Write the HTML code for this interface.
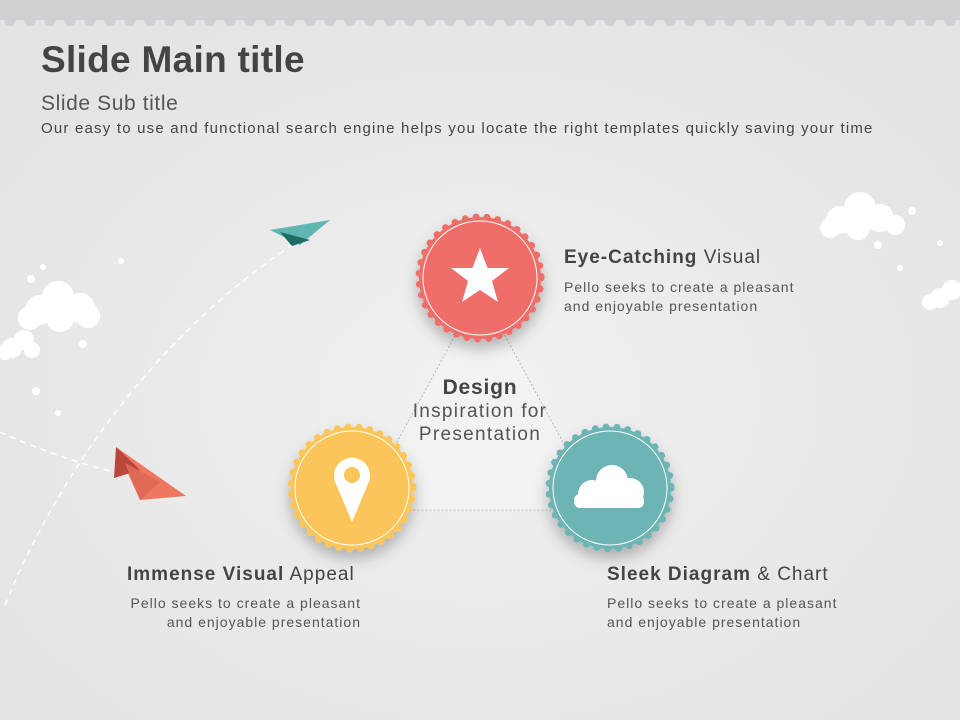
<!DOCTYPE html>
<html><head><meta charset="utf-8"><style>
body{margin:0;width:960px;height:720px;overflow:hidden;background:#ebebeb;font-family:"Liberation Sans",sans-serif;}
.t{position:absolute;color:#444;white-space:nowrap}
.s{letter-spacing:1px}
</style></head><body>
<svg width="960" height="720" style="position:absolute;left:0;top:0">
<defs>
<radialGradient id="bg" cx="50%" cy="55%" r="60%"><stop offset="0" stop-color="#f1f1f1"/><stop offset="1" stop-color="#e4e4e4"/></radialGradient>
<filter id="sh" x="-30%" y="-30%" width="160%" height="170%"><feDropShadow dx="0" dy="8" stdDeviation="7" flood-color="#000" flood-opacity="0.25"/></filter>
</defs>
<rect width="960" height="720" fill="url(#bg)"/>
<rect width="960" height="20" fill="#d0d0d3"/>
<line x1="0" y1="20" x2="960" y2="20" stroke="#d0d0d3" stroke-width="12" stroke-dasharray="0 20" stroke-linecap="round" transform="translate(10,0)"/>
<polygon points="480,290 360,510 600,510" fill="#f2f2f2" stroke="#aaa" stroke-width="0.8" stroke-dasharray="2 2"/>
<path d="M5,605 C60,470 160,330 300,240" fill="none" stroke="#fff" stroke-width="1.5" stroke-dasharray="6 5"/>
<path d="M0,432 C40,450 90,468 130,475" fill="none" stroke="#fff" stroke-width="1.5" stroke-dasharray="6 5"/>
<polygon points="270,230 330,220 300,245" fill="#5fb5b0"/>
<polygon points="280,232 310,240 292,246" fill="#1f6b66"/>
<polygon points="116,447 186,496 140,500" fill="#f0775f"/>
<polygon points="116,447 140,470 114,478" fill="#b8483a"/>
<polygon points="125,463 160,482 140,500" fill="#de6a55"/>
<g fill="#fff">
<circle cx="40" cy="310" r="15"/><circle cx="58" cy="297" r="16"/><circle cx="80" cy="308" r="15"/><circle cx="60" cy="318" r="14"/><circle cx="30" cy="318" r="12"/><circle cx="88" cy="316" r="12"/>
<circle cx="12" cy="348" r="10"/><circle cx="24" cy="340" r="10"/><circle cx="32" cy="350" r="8"/><circle cx="5" cy="352" r="8"/>
<circle cx="43" cy="267" r="3"/><circle cx="31" cy="279" r="4"/><circle cx="83" cy="344" r="4"/><circle cx="36" cy="391" r="4"/><circle cx="58" cy="413" r="3"/><circle cx="121" cy="261" r="3"/>
<circle cx="840" cy="220" r="14"/><circle cx="860" cy="208" r="16"/><circle cx="880" cy="218" r="14"/><circle cx="895" cy="225" r="10"/><circle cx="830" cy="228" r="10"/><circle cx="858" cy="228" r="12"/>
<circle cx="940" cy="298" r="10"/><circle cx="952" cy="290" r="10"/><circle cx="930" cy="302" r="8"/>
<circle cx="912" cy="211" r="4"/><circle cx="878" cy="245" r="4"/><circle cx="900" cy="268" r="3"/><circle cx="940" cy="243" r="3"/>
</g>
<g filter="url(#sh)">
<circle cx="480" cy="278" r="61" fill="#ef6e69"/>
<circle cx="480" cy="278" r="61" fill="none" stroke="#ef6e69" stroke-width="7" stroke-dasharray="0 10.9" stroke-linecap="round"/>
</g>
<circle cx="480" cy="278" r="57" fill="none" stroke="#fff" stroke-width="1"/>
<polygon fill="#fff" points="480,248 487.6,268 509,268 492,281 498,302 480,290 462,302 468,281 451,268 472.4,268"/>
<g filter="url(#sh)">
<circle cx="352" cy="488" r="61" fill="#fcc55a"/>
<circle cx="352" cy="488" r="61" fill="none" stroke="#fcc55a" stroke-width="7" stroke-dasharray="0 10.9" stroke-linecap="round"/>
</g>
<circle cx="352" cy="488" r="57" fill="none" stroke="#fff" stroke-width="1"/>
<path d="M352,522 L336,484 A18,18 0 1 1 368,484 Z" fill="#fff"/>
<circle cx="352" cy="475" r="8" fill="#fcc55a"/>
<g filter="url(#sh)">
<circle cx="610" cy="488" r="61" fill="#6cb5b4"/>
<circle cx="610" cy="488" r="61" fill="none" stroke="#6cb5b4" stroke-width="7" stroke-dasharray="0 10.9" stroke-linecap="round"/>
</g>
<circle cx="610" cy="488" r="57" fill="none" stroke="#fff" stroke-width="1"/>
<g fill="#fff"><circle cx="592" cy="494" r="14"/><circle cx="612" cy="481" r="16"/><circle cx="630" cy="492" r="14"/><rect x="574" y="494" width="70" height="14" rx="6"/></g>
</svg>
<div class="t" style="left:41px;top:39px;font-size:37px;font-weight:bold;letter-spacing:0.3px">Slide Main title</div>
<div class="t" style="left:41px;top:92px;font-size:21px;color:#555;letter-spacing:0.6px">Slide Sub title</div>
<div class="t" style="left:41px;top:120px;font-size:15px;color:#444;letter-spacing:1.2px">Our easy to use and functional search engine helps you locate the right templates quickly saving your time</div>
<div class="t s" style="left:564px;top:247px;font-size:19px"><b>Eye-Catching</b> Visual</div>
<div class="t s" style="left:564px;top:278px;font-size:14px;line-height:19px;color:#555">Pello seeks to create a pleasant<br>and enjoyable presentation</div>
<div class="t s" style="left:127px;top:564px;font-size:19px"><b>Immense Visual</b> Appeal</div>
<div class="t s" style="left:100px;top:594px;width:261px;text-align:right;font-size:14px;line-height:19px;color:#555">Pello seeks to create a pleasant<br>and enjoyable presentation</div>
<div class="t s" style="left:607px;top:564px;font-size:19px"><b>Sleek Diagram</b> &amp; Chart</div>
<div class="t s" style="left:607px;top:594px;font-size:14px;line-height:19px;color:#555">Pello seeks to create a pleasant<br>and enjoyable presentation</div>
<div class="t" style="left:370px;top:376px;width:220px;text-align:center;font-size:19px;line-height:23px;color:#555;letter-spacing:1.3px"><b style="color:#444;font-size:21px;letter-spacing:0.8px">Design</b><br>Inspiration for<br>Presentation</div>
</body></html>
